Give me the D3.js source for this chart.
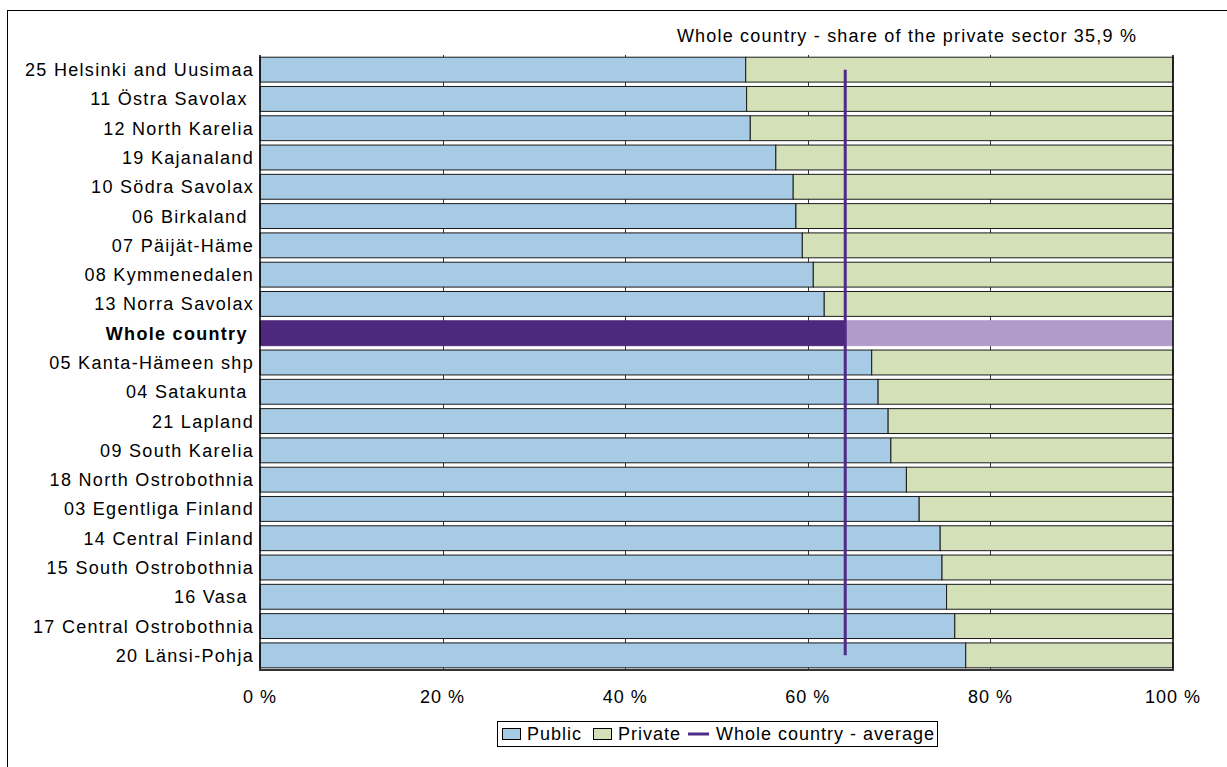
<!DOCTYPE html>
<html>
<head>
<meta charset="utf-8">
<script src="https://cdn.jsdelivr.net/npm/d3@7"></script>
<style>
  html, body { margin: 0; padding: 0; background: #fff; }
  svg { display: block; font-family: "Liberation Sans", Arial, sans-serif; }
  text { white-space: pre; }
</style>
</head>
<body>
<div id="chart"></div>
<script>
// ---- data ----
const categories = [
  "25 Helsinki and Uusimaa",
  "11 Östra Savolax ",
  "12 North Karelia",
  "19 Kajanaland",
  "10 Södra Savolax",
  "06 Birkaland ",
  "07 Päijät-Häme",
  "08 Kymmenedalen",
  "13 Norra Savolax",
  "Whole country ",
  "05 Kanta-Hämeen shp",
  "04 Satakunta ",
  "21 Lapland",
  "09 South Karelia",
  "18 North Ostrobothnia",
  "03 Egentliga Finland",
  "14 Central Finland",
  "15 South Ostrobothnia",
  "16 Vasa ",
  "17 Central Ostrobothnia",
  "20 Länsi-Pohja"
];
const publicShare = [53.2, 53.3, 53.7, 56.5, 58.4, 58.7, 59.4, 60.6, 61.8, 64.1, 67.0, 67.7, 68.8, 69.1, 70.8, 72.2, 74.5, 74.7, 75.2, 76.1, 77.3];
const privateShare = [46.8, 46.7, 46.3, 43.5, 41.6, 41.3, 40.6, 39.4, 38.2, 35.9, 33.0, 32.3, 31.2, 30.9, 29.2, 27.8, 25.5, 25.3, 24.8, 23.9, 22.7];
const averageValue = 64.1;
const xTicks = [0, 20, 40, 60, 80, 100];
const tickLabels = ["0 %", "20 %", "40 %", "60 %", "80 %", "100 %"];
const highlight = "Whole country ";
const titleText = "Whole country - share of the private sector 35,9 %";
const legendItems = ["Public", "Private", "Whole country - average"];

// ---- drawing ----
const W = 1227, H = 767;
const svg = d3.select("#chart").append("svg").attr("width", W).attr("height", H);

const colPublic = "#a7cbe4", colPrivate = "#d3e0b8";
const colHiPublic = "#4e287c", colHiPrivate = "#b19bcb";
const colLine = "#4f2a86";
const FS = 18, LS = 1.3;

// outer frame
svg.append("rect").attr("x", 7.5).attr("y", 10.5).attr("width", 1240).attr("height", 780)
  .attr("fill", "none").attr("stroke", "#000").attr("stroke-width", 1);

const x = d3.scaleLinear().domain([0, 100]).range([260, 1173]);
const y = d3.scaleBand().domain(categories).range([55, 670]).paddingInner(0.15).paddingOuter(0.075);

// gridlines (visible in gaps)
svg.append("g").selectAll("line").data(xTicks.slice(1, -1)).join("line")
  .attr("x1", d => Math.round(x(d)) + 0.5).attr("x2", d => Math.round(x(d)) + 0.5)
  .attr("y1", 55).attr("y2", 670).attr("stroke", "#333").attr("stroke-width", 1);

const rows = categories.map((c, i) => ({ c, pub: publicShare[i], priv: privateShare[i] }));

const g = svg.append("g");
g.selectAll("rect.pub").data(rows).join("rect").attr("class", "pub")
  .attr("x", x(0)).attr("y", d => y(d.c))
  .attr("width", d => x(d.pub) - x(0)).attr("height", y.bandwidth())
  .attr("fill", d => d.c === highlight ? colHiPublic : colPublic)
  .attr("stroke", d => d.c === highlight ? colHiPublic : "#1a1a1a").attr("stroke-width", 1);
g.selectAll("rect.priv").data(rows).join("rect").attr("class", "priv")
  .attr("x", d => x(d.pub)).attr("y", d => y(d.c))
  .attr("width", d => x(d.pub + d.priv) - x(d.pub)).attr("height", y.bandwidth())
  .attr("fill", d => d.c === highlight ? colHiPrivate : colPrivate)
  .attr("stroke", d => d.c === highlight ? colHiPrivate : "#1a1a1a").attr("stroke-width", 1);

// axes lines
svg.append("line").attr("x1", 260).attr("x2", 260).attr("y1", 55).attr("y2", 670)
  .attr("stroke", "#000").attr("stroke-width", 1.5);
svg.append("line").attr("x1", 1173).attr("x2", 1173).attr("y1", 55).attr("y2", 670)
  .attr("stroke", "#000").attr("stroke-width", 1.5);
svg.append("line").attr("x1", 259).attr("x2", 1174).attr("y1", 670).attr("y2", 670)
  .attr("stroke", "#333").attr("stroke-width", 2);

// average line
const lineGen = d3.line().x(() => x(averageValue)).y(d => y(d) + y.bandwidth() / 2);
svg.append("path").datum(categories).attr("d", lineGen)
  .attr("fill", "none").attr("stroke", colLine).attr("stroke-width", 3);

// category labels
svg.append("g").selectAll("text").data(categories).join("text")
  .attr("x", 254).attr("y", d => y(d) + y.bandwidth() / 2)
  .attr("dy", "0.36em").attr("text-anchor", "end")
  .attr("font-size", FS).attr("letter-spacing", LS)
  .attr("font-weight", d => d === highlight ? "bold" : "normal")
  .attr("fill", "#000").text(d => d);

// x tick labels
svg.append("g").selectAll("text").data(xTicks).join("text")
  .attr("x", d => x(d)).attr("y", 703).attr("text-anchor", "middle")
  .attr("font-size", FS).attr("letter-spacing", 1).attr("fill", "#000")
  .text((d, i) => tickLabels[i]);

// title
svg.append("text").attr("x", 907).attr("y", 42).attr("text-anchor", "middle")
  .attr("font-size", FS).attr("letter-spacing", 1.2).attr("fill", "#000").text(titleText);

// legend
const lg = svg.append("g");
lg.append("rect").attr("x", 497.5).attr("y", 721.5).attr("width", 440).attr("height", 25)
  .attr("fill", "#fff").attr("stroke", "#000").attr("stroke-width", 1);
lg.append("rect").attr("x", 502.5).attr("y", 728.5).attr("width", 18).attr("height", 11)
  .attr("fill", colPublic).attr("stroke", "#000");
lg.append("text").attr("x", 527).attr("y", 740).attr("font-size", FS).attr("letter-spacing", 1).text(legendItems[0]);
lg.append("rect").attr("x", 593.5).attr("y", 728.5).attr("width", 18).attr("height", 11)
  .attr("fill", colPrivate).attr("stroke", "#000");
lg.append("text").attr("x", 618).attr("y", 740).attr("font-size", FS).attr("letter-spacing", 1).text(legendItems[1]);
lg.append("line").attr("x1", 688).attr("x2", 709).attr("y1", 734).attr("y2", 734)
  .attr("stroke", colLine).attr("stroke-width", 3);
lg.append("text").attr("x", 716).attr("y", 740).attr("font-size", FS).attr("letter-spacing", 1).text(legendItems[2]);
</script>
</body>
</html>
